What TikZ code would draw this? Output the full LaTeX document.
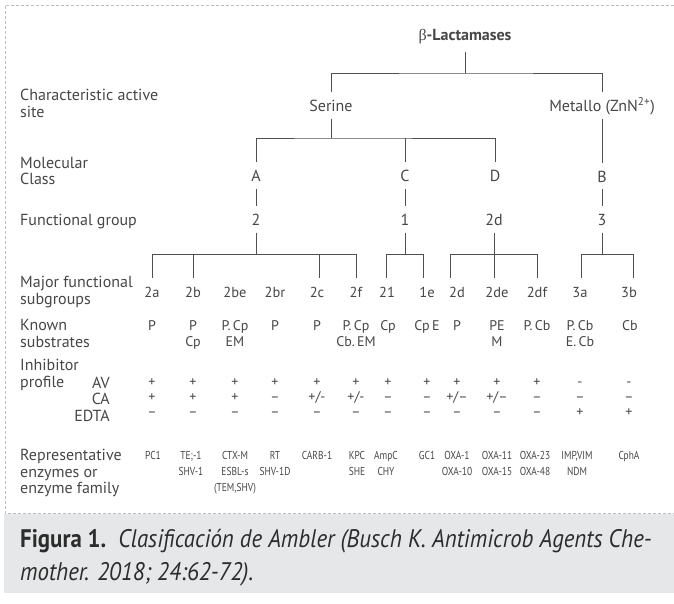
\documentclass[tikz,border=0pt]{standalone}
\usepackage{fontspec}
\setmainfont{PT Sans}
\newfontfamily\condf[FakeStretch=0.82]{PT Sans}
\newfontfamily\capf[FakeStretch=0.9]{PT Sans}
\newfontfamily\grk{Liberation Serif}
\definecolor{txt}{HTML}{474747}
\definecolor{lnc}{HTML}{505050}
\definecolor{dashc}{HTML}{BDBDBD}
\definecolor{band}{HTML}{E6E7E8}
\definecolor{capc}{HTML}{2C2C2C}
\begin{document}
\begin{tikzpicture}[x=1pt,y=-1pt,
  lab/.style={anchor=base west, inner sep=0pt, align=left, text=txt, font=\fontsize{16}{16.5}\selectfont},
  sublab/.style={anchor=base east, inner sep=0pt, text=txt, font=\fontsize{16}{16}\selectfont},
  tr/.style={anchor=base, inner xsep=1pt, inner ysep=7pt, text height=12pt, text depth=0pt, text=txt, font=\fontsize{16}{16}\selectfont},
  sg/.style={tr, font=\fontsize{14.5}{14.5}\selectfont},
  val/.style={anchor=base, inner sep=0pt, align=center, text=txt, font=\fontsize{14}{15.5}\selectfont},
  sgn/.style={anchor=base, inner sep=0pt, text=txt, font=\fontsize{14}{14}\selectfont},
  rep/.style={anchor=base, inner sep=0pt, align=center, text=txt, font=\condf\fontsize{11.5}{16}\selectfont},
  ln/.style={draw=lnc, line width=1pt},
]
\useasboundingbox (0,0) rectangle (674,603);
\fill[white] (0,0) rectangle (674,603);
% frame and caption band
\draw[dashc, line width=0.8pt, dash pattern=on 3pt off 2pt] (674,5) -- (5,5) -- (5,513) -- (674,513);
\fill[band] (4,514) rectangle (674,593);
\node[anchor=base west, inner sep=0pt, align=left, text=capc, font=\capf\fontsize{25.4}{33}\selectfont] (cap) at (20,580)
  {\textbf{Figura 1.}\ \ \textit{Clasificación de Ambler (Busch K. Antimicrob Agents Che-}\\\textit{mother. 2018; 24:62-72).}};

% row labels (base anchor = last line)
\node[lab] (Lsite) at (20,117) {Characteristic active\\site};
\node[lab] (Lclass) at (20,184.5) {Molecular\\Class};
\node[lab] (Lfg) at (20,225.5) {Functional group};
\node[lab] (Lmfs) at (20,304) {Major functional\\subgroups};
\node[lab] (Lks) at (20,347) {Known\\substrates};
\node[lab] (Linh) at (20,387) {Inhibitor\\profile};
\node[sublab] (Lav) at (110,388.5) {AV};
\node[sublab] (Lca) at (110,404.5) {CA};
\node[sublab] (Ledta) at (110,421) {EDTA};
\node[lab] (Lrep) at (20,493.5) {Representative\\enzymes or\\enzyme family};

% tree nodes
\node[tr, inner ysep=11pt, font=\bfseries\fontsize{16}{16}\selectfont] (blac) at (465,40.5) {{\mdseries\grk β}-Lactamases};
\node[tr] (serine) at (331,111.5) {Serine};
\node[tr] (metallo) at (602,111.5) {Metallo (ZnN\textsuperscript{2+})};
\node[tr] (A) at (256,181.5) {A};
\node[tr] (C) at (405,181.5) {C};
\node[tr] (D) at (495,181.5) {D};
\node[tr] (B) at (602,182) {B};
\node[tr] (g2) at (256,225.5) {2};
\node[tr] (g1) at (405,225.5) {1};
\node[tr] (g2d) at (494,225.5) {2d};
\node[tr] (g3) at (602,225.5) {3};

% subgroups
\node[sg] (s2a) at (152,297.5) {2a};
\node[sg] (s2b) at (193,297.5) {2b};
\node[sg] (s2be) at (235,297.5) {2be};
\node[sg] (s2br) at (275,297.5) {2br};
\node[sg] (s2c) at (317,297.5) {2c};
\node[sg] (s2f) at (356,297.5) {2f};
\node[sg] (s21) at (387,297.5) {21};
\node[sg] (s1e) at (427,297.5) {1e};
\node[sg] (s2d) at (457,297.5) {2d};
\node[sg] (s2de) at (497,297.5) {2de};
\node[sg] (s2df) at (537,297.5) {2df};
\node[sg] (s3a) at (580,297.5) {3a};
\node[sg] (s3b) at (629,297.5) {3b};

% junctions
\coordinate (j0) at (465,73);
\coordinate (j1) at (331,138);
\coordinate (t2a) at (152,254);
\coordinate (t2b) at (193,254);
\coordinate (t2c) at (319,254);
\coordinate (t2f) at (356,254);
\coordinate (t21) at (386,254);
\coordinate (t1e) at (423,254);
\coordinate (t2d) at (450,254);
\coordinate (t2df) at (537,254);
\coordinate (t3a) at (581,254);
\coordinate (t3b) at (633,254);

% connectors
\draw[ln] (blac.south) -- (blac.south |- j0);
\draw[ln] (serine.north) |- (j0) -| (metallo.north);
\draw[ln] (serine.south) -- (serine.south |- j1);
\draw[ln] (A.north) |- (j1) -| (D.north);
\draw[ln] (C.north) -- (C.north |- j1);
\draw[ln] (metallo.south) -- (B.north);
\draw[ln] (A.south) -- (g2.north);
\draw[ln] (C.south) -- (g1.north);
\draw[ln] (B.south) -- (g3.north);
% group 2
\draw[ln] (g2.south) -- (g2.south |- t2a);
\draw[ln] (t2a) -- (t2f);
\draw[ln] (t2a) -- (t2a |- s2a.north);
\draw[ln] (t2b) -- (t2b |- s2b.north);
\draw[ln] (t2c) -- (t2c |- s2c.north);
\draw[ln] (t2f) -- (t2f |- s2f.north);
% group 1
\draw[ln] (g1.south) -- (g1.south |- t21);
\draw[ln] (t21) -- (t1e);
\draw[ln] (t21) -- (t21 |- s21.north);
\draw[ln] (t1e) -- (t1e |- s1e.north);
% group 2d
\draw[ln] (g2d.south) -- (g2d.south |- s2de.north);
\draw[ln] (t2d) -- (t2df);
\draw[ln] (t2d) -- (t2d |- s2d.north);
\draw[ln] (t2df) -- (t2df |- s2df.north);
% group 3
\draw[ln] (g3.south) -- (g3.south |- t3a);
\draw[ln] (t3a) -- (t3b);
\draw[ln] (t3a) -- (t3a |- s3a.north);
\draw[ln] (t3b) -- (t3b |- s3b.north);

% known substrates (base anchor = last line)
\node[val] (k2a) at (152,330.5) {P};
\node[val] (k2b) at (193,346) {P\\Cp};
\node[val] (k2be) at (235,346) {P.\,Cp\\EM};
\node[val] (k2br) at (275,330.5) {P};
\node[val] (k2c) at (317,330.5) {P};
\node[val] (k2f) at (356,346) {P.\,Cp\\Cb.\,EM};
\node[val] (k21) at (388,330.5) {Cp};
\node[val] (k1e) at (427,330.5) {Cp\,E};
\node[val] (k2d) at (457,330.5) {P};
\node[val] (k2de) at (497,346) {PE\\M};
\node[val] (k2df) at (537,330.5) {P.\,Cb};
\node[val] (k3a) at (580,346) {P.\,Cb\\E.\,Cb};
\node[val] (k3b) at (630,330.5) {Cb};

% inhibitor profile: AV
\node[sgn] (av2a) at (152,386) {+};
\node[sgn] (av2b) at (193,386) {+};
\node[sgn] (av2be) at (235,386) {+};
\node[sgn] (av2br) at (275,386) {+};
\node[sgn] (av2c) at (317,386) {+};
\node[sgn] (av2f) at (356,386) {+};
\node[sgn] (av21) at (388,386) {+};
\node[sgn] (av1e) at (427,386) {+};
\node[sgn] (av2d) at (457,386) {+};
\node[sgn] (av2de) at (497,386) {+};
\node[sgn] (av2df) at (537,386) {+};
\node[sgn] (av3a) at (580,386) {-};
\node[sgn] (av3b) at (629,386) {-};
% CA
\node[sgn] (ca2a) at (152,401) {+};
\node[sgn] (ca2b) at (193,401) {+};
\node[sgn] (ca2be) at (235,401) {+};
\node[sgn] (ca2br) at (275,401) {–};
\node[sgn] (ca2c) at (317,401) {+/-};
\node[sgn] (ca2f) at (356,401) {+/-};
\node[sgn] (ca21) at (388,401) {–};
\node[sgn] (ca1e) at (427,401) {–};
\node[sgn] (ca2d) at (457,401) {+/–};
\node[sgn] (ca2de) at (497,401) {+/–};
\node[sgn] (ca2df) at (537,401) {–};
\node[sgn] (ca3a) at (580,401) {–};
\node[sgn] (ca3b) at (629,401) {–};
% EDTA
\node[sgn] (ed2a) at (152,416) {–};
\node[sgn] (ed2b) at (193,416) {–};
\node[sgn] (ed2be) at (235,416) {–};
\node[sgn] (ed2br) at (275,416) {–};
\node[sgn] (ed2c) at (317,416) {–};
\node[sgn] (ed2f) at (356,416) {–};
\node[sgn] (ed21) at (388,416) {–};
\node[sgn] (ed1e) at (427,416) {–};
\node[sgn] (ed2d) at (457,416) {–};
\node[sgn] (ed2de) at (497,416) {–};
\node[sgn] (ed2df) at (537,416) {–};
\node[sgn] (ed3a) at (580,416) {+};
\node[sgn] (ed3b) at (629,416) {+};

% representative enzymes (base anchor = last line)
\node[rep] (r2a) at (153,459) {PC1};
\node[rep] (r2b) at (191,475) {TE;-1\\SHV-1};
\node[rep] (r2be) at (235,491) {CTX-M\\ESBL-s\\(TEM,SHV)};
\node[rep] (r2br) at (275,475) {RT\\SHV-1D};
\node[rep] (r2c) at (317,459) {CARB-1};
\node[rep] (r2f) at (357,475) {KPC\\SHE};
\node[rep] (r21) at (386,475) {AmpC\\CHY};
\node[rep] (r1e) at (427,459) {GC1};
\node[rep] (r2d) at (457,475) {OXA-1\\OXA-10};
\node[rep] (r2de) at (497,475) {OXA-11\\OXA-15};
\node[rep] (r2df) at (535,475) {OXA-23\\OXA-48};
\node[rep] (r3a) at (577,475) {IMP,VIM\\NDM};
\node[rep] (r3b) at (629,459) {CphA};
\end{tikzpicture}
\end{document}
